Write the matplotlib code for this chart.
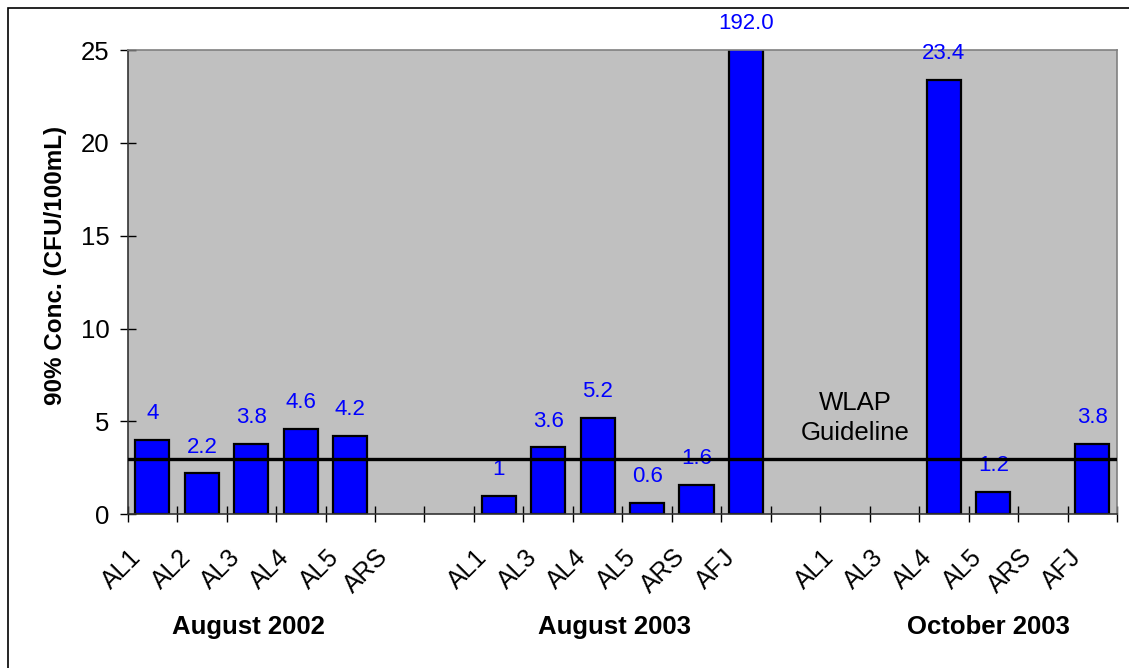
import matplotlib
matplotlib.use("Agg")
import matplotlib.pyplot as plt
from matplotlib.patches import Rectangle
from matplotlib.transforms import ScaledTranslation

plt.rcParams['font.family'] = ['Liberation Sans', 'DejaVu Sans']

# sampling events and the sites sampled in each (values in CFU/100mL, '' = no result)
groups = ['August 2002', 'August 2003', 'October 2003']
group_label_x = [1.95, 9.35, 16.9]

sites_aug02 = ['AL1', 'AL2', 'AL3', 'AL4', 'AL5', 'ARS']
conc_aug02 = ['4', '2.2', '3.8', '4.6', '4.2', '']

sites_aug03 = ['AL1', 'AL3', 'AL4', 'AL5', 'ARS', 'AFJ']
conc_aug03 = ['1', '3.6', '5.2', '0.6', '1.6', '192.0']

sites_oct03 = ['AL1', 'AL3', 'AL4', 'AL5', 'ARS', 'AFJ']
conc_oct03 = ['', '', '23.4', '1.2', '', '3.8']

guideline = 3

# one empty slot between sampling events
sites = sites_aug02 + [''] + sites_aug03 + [''] + sites_oct03
conc = conc_aug02 + [''] + conc_aug03 + [''] + conc_oct03
x = list(range(len(sites)))

fig = plt.figure(figsize=(11.29, 6.68), dpi=100)
ax = fig.add_axes([0.1131, 0.2301, 0.8763, 0.6950])
ax.set_facecolor('#C0C0C0')

# outer chart border
fig.patches.append(Rectangle((0.0071, -0.05), 1.1, 0.988 + 0.05, transform=fig.transFigure,
                             fill=False, edgecolor='black', linewidth=1.2))

ymax = 25
for xi, s in zip(x, conc):
    if s == '':
        continue
    v = float(s)
    ax.bar(xi, v, width=0.69, color='#0000FF', edgecolor='black', linewidth=1.6, zorder=2)
    ax.annotate(s, (xi, min(v, ymax)), xytext=(0, 19), textcoords='offset points',
                ha='center', va='center', fontsize=16, color='#0000FF',
                annotation_clip=False, zorder=3)

ax.axhline(guideline, color='black', linewidth=2.4, zorder=4)
ax.text(14.2, 5.2, 'WLAP\nGuideline', ha='center', va='center', fontsize=18.5,
        linespacing=1.3, zorder=4)

ax.set_xlim(-0.5, len(sites) - 0.5)
ax.set_ylim(0, ymax)
ax.set_yticks(range(0, 26, 5))
ax.tick_params(axis='y', direction='inout', length=12, width=1, labelsize=18.5, pad=7)

# tick marks between categories, labels under the categories
ax.set_xticks([i - 0.5 for i in range(len(sites) + 1)], minor=True)
ax.set_xticks(x)
ax.set_xticklabels(sites, rotation=45, ha='right', va='center',
                   rotation_mode='anchor', fontsize=18)
ax.tick_params(axis='x', which='major', length=0, pad=28)
ax.tick_params(axis='x', which='minor', direction='inout', length=12, width=1)
shift = ScaledTranslation(-0.15, 0, fig.dpi_scale_trans)
for lab in ax.get_xticklabels():
    lab.set_transform(lab.get_transform() + shift)

for gx, g in zip(group_label_x, groups):
    ax.text(gx, -0.243, g, transform=ax.get_xaxis_transform(), ha='center',
            va='center', fontsize=18.5, fontweight='bold')

ax.set_ylabel('90% Conc. (CFU/100mL)', fontsize=17.5, fontweight='bold')
ax.yaxis.set_label_coords(-0.061, 0.537)

for side in ['left', 'bottom']:
    ax.spines[side].set_color('#333333')
for side in ['top', 'right']:
    ax.spines[side].set_color('#808080')
for sp in ax.spines.values():
    sp.set_linewidth(1.2)

fig.savefig('out.png', dpi=100)
